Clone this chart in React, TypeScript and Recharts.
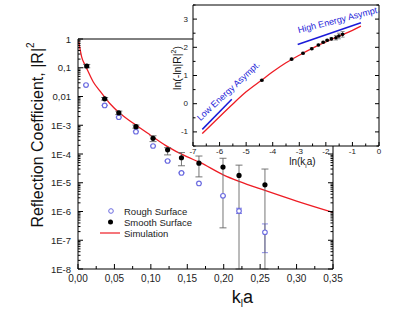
import React from "react";
import {
  ComposedChart,
  Line,
  Scatter,
  XAxis,
  YAxis,
  ErrorBar,
  CartesianGrid,
  Legend,
  ReferenceDot,
} from "recharts";

// ---------- main chart data ----------
const xMajorTicks = [0, 0.05, 0.1, 0.15, 0.2, 0.25, 0.3, 0.35];
const xMajorLabels = ["0,00", "0,05", "0,10", "0,15", "0,20", "0,25", "0,30", "0,35"];
const xMinorTicks = [0.025, 0.075, 0.125, 0.175, 0.225, 0.275, 0.325];

const yMajorTicks = [1e-8, 1e-7, 1e-6, 1e-5, 1e-4, 1e-3, 1e-2, 1e-1, 1];
const yMajorLabels = ["1E-8", "1E-7", "1E-6", "1E-5", "1E-4", "1E-3", "0,01", "0,1", "1"];
const yMinorMultipliers = [2, 3, 4, 5, 6, 7, 8, 9];

// Smooth surface: k, R^2, lower bound, upper bound
const smoothK = [0.012, 0.0366, 0.056, 0.0795, 0.103, 0.123, 0.142, 0.166, 0.199, 0.221, 0.2566];
const smoothR = [0.115, 8.3e-3, 2.7e-3, 8.9e-4, 3.5e-4, 1.4e-4, 7.4e-5, 4.8e-5, 3.5e-5, 1.8e-5, 8.5e-6];
const smoothLo = [0.1, 7.5e-3, 2.35e-3, 7.9e-4, 2.7e-4, 9.3e-5, 3.9e-5, 1.6e-5, 2.7e-7, 1e-8, 1e-8];
const smoothHi = [0.13, 9.2e-3, 3.1e-3, 1.02e-3, 4.3e-4, 1.66e-4, 1.12e-4, 8.5e-5, 7.1e-5, 4.1e-5, 3.0e-5];

// Rough surface
const roughK = [0.011, 0.0366, 0.056, 0.0795, 0.103, 0.123, 0.142, 0.166, 0.199, 0.221, 0.2566];
const roughR = [0.025, 4.9e-3, 1.9e-3, 6.0e-4, 1.9e-4, 5.7e-5, 2.2e-5, 9.5e-6, 3.5e-6, 1.05e-6, 1.9e-7];
const roughLo = [0.025, 4.9e-3, 1.9e-3, 6.0e-4, 1.9e-4, 5.7e-5, 2.2e-5, 9.5e-6, 3.5e-6, 8.5e-7, 3.7e-8];
const roughHi = [0.025, 4.9e-3, 1.9e-3, 6.0e-4, 1.9e-4, 5.7e-5, 2.2e-5, 9.5e-6, 3.5e-6, 1.3e-6, 3.7e-7];

// Simulation curve
const simK = [0.001, 0.005, 0.01, 0.013, 0.021, 0.03, 0.044, 0.0575, 0.076, 0.099, 0.12, 0.15, 0.166, 0.2, 0.221, 0.2566, 0.3, 0.35];
const simR = [0.83, 0.24, 0.12, 0.083, 0.032, 0.0158, 5.6e-3, 2.6e-3, 1.17e-3, 4.6e-4, 2.0e-4, 7.9e-5, 5.3e-5, 1.85e-5, 1.12e-5, 5.4e-6, 2.3e-6, 9.3e-7];

// ---------- inset data ----------
const insetXMajor = [-7, -6, -5, -4, -3, -2, -1, 0];
const insetXLabels = ["-7", "-6", "-5", "-4", "-3", "-2", "-1", "0"];
const insetXMinor = [-6.5, -5.5, -4.5, -3.5, -2.5, -1.5, -0.5];
const insetYMajor = [-1, 0, 1, 2, 3];
const insetYLabels = ["-1", "0", "1", "2", "3"];
const insetYMinor = [-1.5, -0.5, 0.5, 1.5, 2.5, 3.5];

const insetPtsX = [-4.41, -3.29, -2.86, -2.53, -2.28, -2.1, -1.95, -1.79, -1.62, -1.51, -1.37];
const insetPtsY = [0.83, 1.58, 1.79, 1.95, 2.08, 2.18, 2.25, 2.3, 2.34, 2.4, 2.46];
const insetPtsErr = [0.03, 0.03, 0.03, 0.03, 0.03, 0.03, 0.03, 0.05, 0.08, 0.1, 0.1];

const insetCurveX = [-6.65, -6.0, -5.5, -5.0, -4.41, -4.0, -3.5, -3.0, -2.5, -2.0, -1.5, -1.0, -0.68];
const insetCurveY = [-1.06, -0.46, -0.01, 0.42, 0.84, 1.13, 1.45, 1.72, 1.97, 2.19, 2.4, 2.6, 2.75];

const lowAsymX = [-6.65, -5.54];
const lowAsymY = [-0.91, 0.16];
const highAsymX = [-3.06, -0.68];
const highAsymY = [2.1, 2.87];

// ---------- built tables ----------
const smoothData = smoothK.map((k, i) => ({
  k,
  r: smoothR[i],
  err: [smoothR[i] - smoothLo[i], smoothHi[i] - smoothR[i]],
}));
const roughData = roughK.map((k, i) => ({
  k,
  r: roughR[i],
  err: [roughR[i] - roughLo[i], roughHi[i] - roughR[i]],
}));
const simData = simK.map((k, i) => ({ k, r: simR[i] }));

const yMinorTicks: number[] = [];
yMajorTicks.slice(0, -1).forEach((d) => yMinorMultipliers.forEach((m) => yMinorTicks.push(d * m)));

const insetPts = insetPtsX.map((x, i) => ({ x, y: insetPtsY[i], err: insetPtsErr[i] }));
const insetCurve = insetCurveX.map((x, i) => ({ x, y: insetCurveY[i] }));
const lowAsym = lowAsymX.map((x, i) => ({ x, y: lowAsymY[i] }));
const highAsym = highAsymX.map((x, i) => ({ x, y: highAsymY[i] }));

const FONT = "'Liberation Sans', Arial, sans-serif";
const RED = "#ee1c24";
const BLUE = "#1a1ad8";
const ROUGH = "#6b6be0";

const findMajor = (majors: number[], v: number) =>
  majors.findIndex((m) => Math.abs(m - v) <= Math.abs(m) * 1e-6 + 1e-9);

function makeTick(
  side: "left" | "right" | "top" | "bottom",
  majors: number[],
  labels: string[] | null,
  opts: { fs: number; majLen: number; minLen: number; gap: number }
) {
  return (props: any) => {
    const { x, y, payload } = props;
    const idx = findMajor(majors, payload.value);
    const major = idx >= 0;
    const len = major ? opts.majLen : opts.minLen;
    let line;
    if (side === "left") line = <line x1={x} y1={y} x2={x + len} y2={y} stroke="#000" />;
    else if (side === "right") line = <line x1={x} y1={y} x2={x - len} y2={y} stroke="#000" />;
    else if (side === "bottom") line = <line x1={x} y1={y} x2={x} y2={y - len} stroke="#000" />;
    else line = <line x1={x} y1={y} x2={x} y2={y + len} stroke="#000" />;
    let label = null;
    if (major && labels) {
      if (side === "left")
        label = (
          <text x={x - opts.gap} y={y} textAnchor="end" dominantBaseline="central" fontSize={opts.fs} fill="#222" fontFamily={FONT}>
            {labels[idx]}
          </text>
        );
      if (side === "bottom")
        label = (
          <text x={x} y={y + opts.gap} textAnchor="middle" dominantBaseline="central" fontSize={opts.fs} fill="#222" fontFamily={FONT}>
            {labels[idx]}
          </text>
        );
    }
    return (
      <g>
        {line}
        {label}
      </g>
    );
  };
}

const mainTickOpts = { fs: 9.5, majLen: 5, minLen: 2.5, gap: 7 };
const mainXTickOpts = { fs: 10, majLen: 5, minLen: 3, gap: 9 };
const insetTickOpts = { fs: 8, majLen: 4, minLen: 2.5, gap: 5 };

const legendItems = [
  { name: "Rough Surface", kind: "rough" },
  { name: "Smooth Surface", kind: "smooth" },
  { name: "Simulation", kind: "sim" },
];

const LegendContent = () => (
  <svg width={110} height={36} style={{ overflow: "visible" }}>
    {legendItems.map((it, i) => {
      const cy = 7 + i * 11;
      return (
        <g key={it.name}>
          {it.kind === "rough" && <circle cx={13} cy={cy} r={2.3} fill="#fff" stroke={ROUGH} strokeWidth={1} />}
          {it.kind === "smooth" && <circle cx={12.5} cy={cy} r={2.5} fill="#000" />}
          {it.kind === "sim" && <line x1={2} y1={cy} x2={22} y2={cy} stroke={RED} strokeWidth={1.2} />}
          <text x={26} y={cy} dominantBaseline="central" fontSize={9.5} fontFamily={FONT} fill="#222">
            {it.name}
          </text>
        </g>
      );
    })}
  </svg>
);

const smoothShape = (p: any) => <circle cx={p.cx} cy={p.cy} r={2.6} fill="#000" />;
const roughShape = (p: any) => <circle cx={p.cx} cy={p.cy} r={2.3} fill="#fff" stroke={ROUGH} strokeWidth={1.1} />;
const insetPtShape = (p: any) => <circle cx={p.cx} cy={p.cy} r={1.8} fill="#000" />;

const rotText = (txt: string, angle: number) => (p: any) => (
  <text
    x={p.cx}
    y={p.cy}
    transform={`rotate(${angle} ${p.cx} ${p.cy})`}
    fontSize={9}
    fill={BLUE}
    fontFamily={FONT}
  >
    {txt}
  </text>
);

export default function App() {
  return (
    <div style={{ position: "absolute", left: 0, top: 0, width: 415, height: 312, background: "#fff" }}>
      <div style={{ position: "absolute", left: 0, top: 0 }}>
        <ComposedChart width={415} height={312} margin={{ top: 38, left: 77, right: 81, bottom: 42 }}>
          <XAxis
            xAxisId="b"
            dataKey="k"
            type="number"
            domain={[0, 0.35]}
            allowDataOverflow
            ticks={[...xMajorTicks, ...xMinorTicks]}
            interval={0}
            height={1}
            tickSize={0}
            tickMargin={0}
            stroke="#000"
            tick={makeTick("bottom", xMajorTicks, xMajorLabels, mainXTickOpts)}
            label={{
              content: (p: any) => {
                const vb = p.viewBox;
                return (
                  <text x={vb.x + vb.width * 0.645} y={vb.y + 34} textAnchor="middle" fontSize={18} fontFamily={FONT} fill="#111">
                    k<tspan fontSize={10} dy={4}>l</tspan>
                    <tspan dy={-4}>a</tspan>
                  </text>
                );
              },
            }}
          />
          <XAxis
            xAxisId="t"
            orientation="top"
            type="number"
            domain={[0, 0.35]}
            allowDataOverflow
            ticks={[...xMajorTicks, ...xMinorTicks]}
            interval={0}
            height={1}
            tickSize={0}
            tickMargin={0}
            stroke="#000"
            tick={makeTick("top", xMajorTicks, null, mainXTickOpts)}
          />
          <YAxis
            yAxisId="l"
            dataKey="r"
            type="number"
            scale="log"
            domain={[1e-8, 1]}
            allowDataOverflow
            ticks={[...yMajorTicks, ...yMinorTicks]}
            interval={0}
            width={1}
            tickSize={0}
            tickMargin={0}
            stroke="#000"
            tick={makeTick("left", yMajorTicks, yMajorLabels, mainTickOpts)}
            label={{
              content: (p: any) => {
                const vb = p.viewBox;
                const cx = vb.x - 40;
                const cy = 135;
                return (
                  <text
                    x={cx}
                    y={cy}
                    transform={`rotate(-90 ${cx} ${cy})`}
                    textAnchor="middle"
                    dominantBaseline="central"
                    fontSize={16}
                    fontFamily={FONT}
                    fill="#111"
                  >
                    Reflection Coefficient, |R|<tspan fontSize={10} dy={-7}>2</tspan>
                  </text>
                );
              },
            }}
          />
          <YAxis
            yAxisId="r"
            orientation="right"
            type="number"
            scale="log"
            domain={[1e-8, 1]}
            allowDataOverflow
            ticks={[...yMajorTicks, ...yMinorTicks]}
            interval={0}
            width={1}
            tickSize={0}
            tickMargin={0}
            stroke="#000"
            tick={makeTick("right", yMajorTicks, null, mainTickOpts)}
          />
          <Line
            xAxisId="b"
            yAxisId="l"
            data={simData}
            dataKey="r"
            type="monotone"
            stroke={RED}
            strokeWidth={1.3}
            dot={false}
            isAnimationActive={false}
          />
          <Scatter xAxisId="b" yAxisId="l" data={roughData} dataKey="r" shape={roughShape} isAnimationActive={false}>
            <ErrorBar dataKey="err" direction="y" width={3} stroke={ROUGH} strokeWidth={0.8} />
          </Scatter>
          <Scatter xAxisId="b" yAxisId="l" data={smoothData} dataKey="r" shape={smoothShape} isAnimationActive={false}>
            <ErrorBar dataKey="err" direction="y" width={3.5} stroke="#666" strokeWidth={0.9} />
          </Scatter>
          <Legend
            layout="vertical"
            align="center"
            verticalAlign="middle"
            content={<LegendContent />}
            wrapperStyle={{ position: "absolute", left: 98, top: 204, width: 110, height: 36 }}
          />
        </ComposedChart>
      </div>
      <div style={{ position: "absolute", left: 0, top: 0, pointerEvents: "none" }}>
        <ComposedChart width={415} height={312} margin={{ top: 4, left: 192, right: 35, bottom: 165 }}>
          <CartesianGrid xAxisId="b" yAxisId="l" fill="#fff" fillOpacity={1} horizontal={false} vertical={false} />
          <XAxis
            xAxisId="b"
            dataKey="x"
            type="number"
            domain={[-7, 0]}
            allowDataOverflow
            ticks={[...insetXMajor, ...insetXMinor]}
            interval={0}
            height={1}
            tickSize={0}
            tickMargin={0}
            stroke="#000"
            tick={makeTick("bottom", insetXMajor, insetXLabels, insetTickOpts)}
            label={{
              content: (p: any) => {
                const vb = p.viewBox;
                return (
                  <text x={vb.x + vb.width * 0.588} y={vb.y + 19} textAnchor="middle" fontSize={10} fontFamily={FONT} fill="#111">
                    ln(k<tspan fontSize={6} dy={2.5}>l</tspan>
                    <tspan dy={-2.5}>a)</tspan>
                  </text>
                );
              },
            }}
          />
          <XAxis
            xAxisId="t"
            orientation="top"
            type="number"
            domain={[-7, 0]}
            allowDataOverflow
            ticks={[...insetXMajor, ...insetXMinor]}
            interval={0}
            height={1}
            tickSize={0}
            tickMargin={0}
            stroke="#000"
            tick={makeTick("top", insetXMajor, null, insetTickOpts)}
          />
          <YAxis
            yAxisId="l"
            dataKey="y"
            type="number"
            domain={[-1.5, 3.5]}
            allowDataOverflow
            ticks={[...insetYMajor, ...insetYMinor]}
            interval={0}
            width={1}
            tickSize={0}
            tickMargin={0}
            stroke="#000"
            tick={makeTick("left", insetYMajor, insetYLabels, insetTickOpts)}
            label={{
              content: (p: any) => {
                const vb = p.viewBox;
                const cx = vb.x - 15;
                const cy = 68;
                return (
                  <text
                    x={cx}
                    y={cy}
                    transform={`rotate(-90 ${cx} ${cy})`}
                    textAnchor="middle"
                    dominantBaseline="central"
                    fontSize={10.5}
                    fontFamily={FONT}
                    fill="#111"
                  >
                    ln(-ln|R|<tspan fontSize={7} dy={-4}>2</tspan>
                    <tspan dy={4}>)</tspan>
                  </text>
                );
              },
            }}
          />
          <YAxis
            yAxisId="r"
            orientation="right"
            type="number"
            domain={[-1.5, 3.5]}
            allowDataOverflow
            ticks={[...insetYMajor, ...insetYMinor]}
            interval={0}
            width={1}
            tickSize={0}
            tickMargin={0}
            stroke="#000"
            tick={makeTick("right", insetYMajor, null, insetTickOpts)}
          />
          <Line xAxisId="b" yAxisId="l" data={lowAsym} dataKey="y" stroke={BLUE} strokeWidth={1.5} dot={false} isAnimationActive={false} />
          <Line xAxisId="b" yAxisId="l" data={highAsym} dataKey="y" stroke={BLUE} strokeWidth={1.5} dot={false} isAnimationActive={false} />
          <Line
            xAxisId="b"
            yAxisId="l"
            data={insetCurve}
            dataKey="y"
            type="monotone"
            stroke={RED}
            strokeWidth={1.3}
            dot={false}
            isAnimationActive={false}
          />
          <Scatter xAxisId="b" yAxisId="l" data={insetPts} dataKey="y" shape={insetPtShape} isAnimationActive={false}>
            <ErrorBar dataKey="err" direction="y" width={2} stroke="#777" strokeWidth={0.8} />
          </Scatter>
          <ReferenceDot xAxisId="b" yAxisId="l" x={-6.72} y={-0.62} ifOverflow="visible" shape={rotText("Low Energy Asympt.", -43)} />
          <ReferenceDot xAxisId="b" yAxisId="l" x={-3.02} y={2.5} ifOverflow="visible" shape={rotText("High Energy Asympt.", -14.5)} />
        </ComposedChart>
      </div>
    </div>
  );
}
